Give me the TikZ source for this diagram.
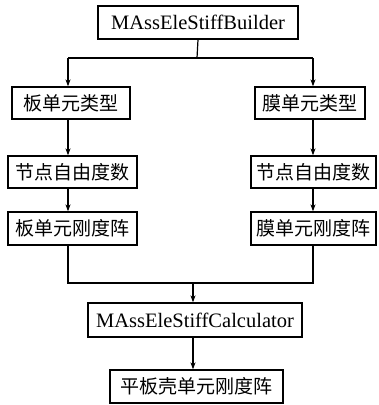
\documentclass[tikz,border=0pt]{standalone}
\usepackage{fontspec}
\setmainfont{Liberation Serif}
\newfontfamily\cjk{Noto Sans CJK SC}
\usetikzlibrary{arrows.meta}
\begin{document}
\begin{tikzpicture}[x=1pt,y=-1pt,
  box/.style={draw,line width=1.3pt,inner sep=0pt,anchor=center},
  lat/.style={font=\fontsize{20.5}{22}\selectfont},
  zh/.style={font=\cjk\fontsize{19}{21}\selectfont},
  conn/.style={line width=1.2pt},
  arr/.style={conn,-{Stealth[length=7pt,width=5pt]}}]
\useasboundingbox (0,0) rectangle (379,405);
\node[box,lat,minimum width=200pt,minimum height=33pt] (top) at (198,22.5) {MAssEleStiffBuilder};
\node[box,zh,minimum width=118pt,minimum height=32pt] (L1) at (71,103) {板单元类型};
\node[box,zh,minimum width=110pt,minimum height=32pt] (R1) at (310,103) {膜单元类型};
\node[box,zh,minimum width=129pt,minimum height=32pt] (L2) at (72.5,172) {节点自由度数};
\node[box,zh,minimum width=125pt,minimum height=32pt] (R2) at (313.5,172) {节点自由度数};
\node[box,zh,minimum width=129pt,minimum height=33pt] (L3) at (72.5,228.5) {板单元刚度阵};
\node[box,zh,minimum width=125pt,minimum height=33pt] (R3) at (313.5,228.5) {膜单元刚度阵};
\node[box,lat,minimum width=214pt,minimum height=34pt] (calc) at (195,320) {MAssEleStiffCalculator};
\node[box,zh,minimum width=173pt,minimum height=33pt] (res) at (196.5,386.5) {平板壳单元刚度阵};
\coordinate (j1) at (197,58);
\coordinate (jl) at (68,58);
\coordinate (jr) at (313,58);
\coordinate (bl) at (68,283);
\coordinate (br) at (313,283);
\coordinate (bm) at (193,283);
\draw[conn] (top.south) -- (j1);
\draw[conn] (jl) -- (jr);
\draw[arr] (jl) -- (jl |- L1.north);
\draw[arr] (jr) -- (jr |- R1.north);
\draw[arr] (jl |- L1.south) -- (jl |- L2.north);
\draw[arr] (jr |- R1.south) -- (jr |- R2.north);
\draw[arr] (jl |- L2.south) -- (jl |- L3.north);
\draw[arr] (jr |- R2.south) -- (jr |- R3.north);
\draw[conn] (jl |- L3.south) -- (bl) -- (br) -- (jr |- R3.south);
\draw[arr] (bm) -- (bm |- calc.north);
\draw[arr] (bm |- calc.south) -- (bm |- res.north);
\end{tikzpicture}
\end{document}
